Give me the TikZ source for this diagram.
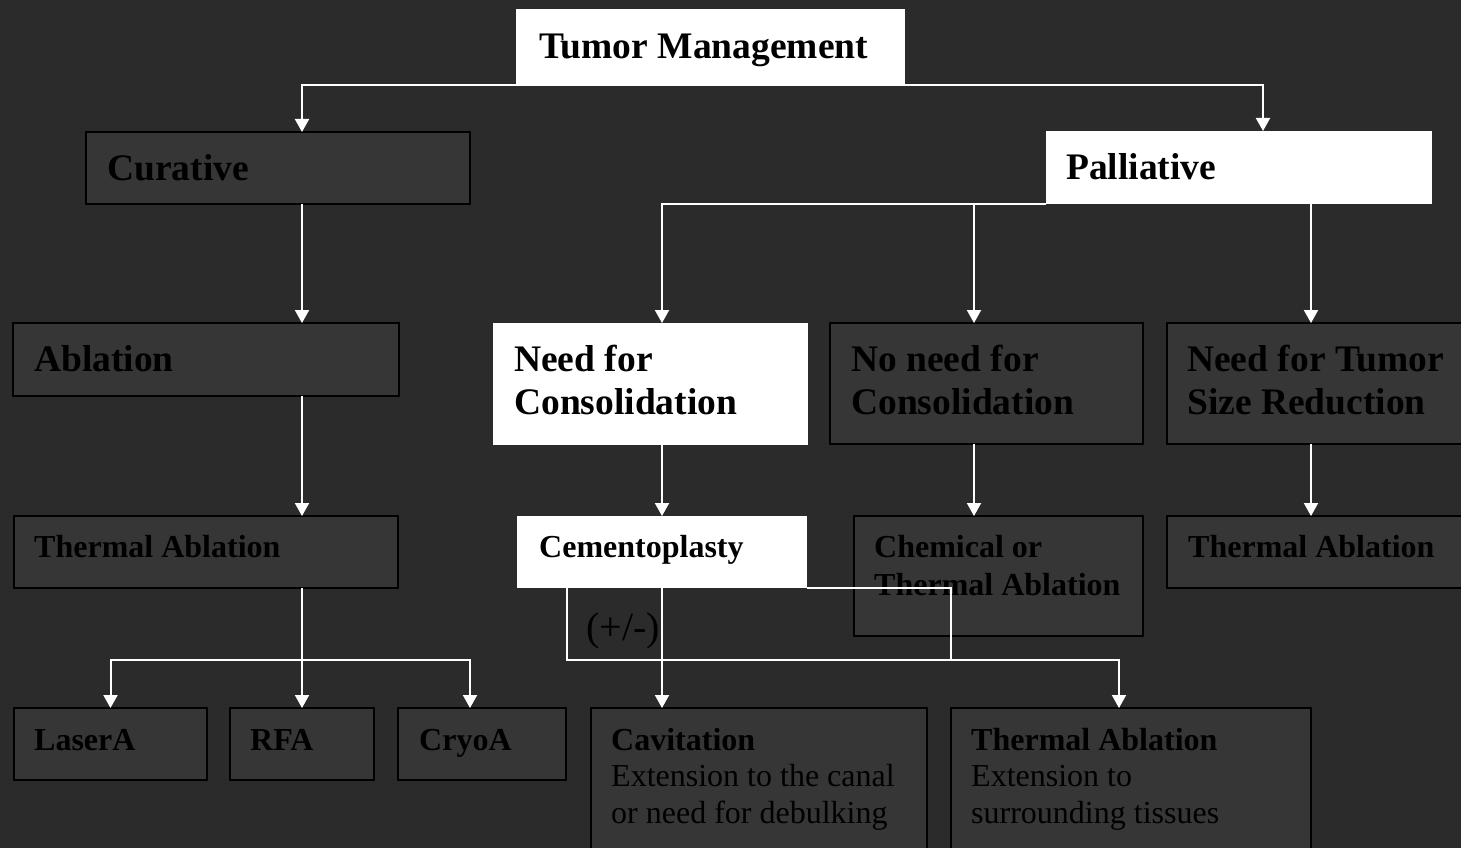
\documentclass[tikz,border=0pt]{standalone}
\usepackage{fontspec}
\setmainfont{Liberation Serif}
\usetikzlibrary{arrows.meta}
\definecolor{bgc}{HTML}{2B2B2B}
\definecolor{boxc}{HTML}{363636}
\tikzset{
  x=1pt, y=-1pt,
  boxbase/.style={rectangle, anchor=north west, inner sep=0pt, outer sep=0pt},
  dbox/.style={boxbase, fill=boxc, draw=black, line width=2pt},
  wbox/.style={boxbase, fill=white},
  big/.style={anchor=base west, inner sep=0pt, align=left, text=black,
    font=\fontsize{37.5}{43}\selectfont\bfseries},
  small/.style={anchor=base west, inner sep=0pt, align=left, text=black,
    font=\fontsize{32}{38}\selectfont\bfseries},
  plain/.style={anchor=base west, inner sep=0pt, align=left, text=black,
    font=\fontsize{32}{36.5}\selectfont},
  conn/.style={draw=white, line width=2pt},
  arr/.style={conn, -{Triangle[width=14pt,length=13pt]}}
}
\begin{document}
\begin{tikzpicture}
\fill[bgc] (0,0) rectangle (1461,848);
\useasboundingbox (0,0) rectangle (1461,848);
\begin{scope}
\clip (0,0) rectangle (1461,848);
% boxes
\node[wbox, minimum width=389, minimum height=76] (tm) at (516,9) {};
\node[dbox, minimum width=384, minimum height=72] (cur) at (86,132) {};
\node[wbox, minimum width=386, minimum height=73] (pal) at (1046,131) {};
\node[dbox, minimum width=386, minimum height=73] (abl) at (13,323) {};
\node[wbox, minimum width=315, minimum height=122] (ncons) at (493,323) {};
\node[dbox, minimum width=313, minimum height=121] (nonc) at (830,323) {};
\node[dbox, minimum width=313, minimum height=121] (ntum) at (1167,323) {};
\node[dbox, minimum width=384, minimum height=72] (tal) at (14,516) {};
\node[wbox, minimum width=290, minimum height=72] (cement) at (517,516) {};
\node[dbox, minimum width=289, minimum height=120] (chem) at (854,516) {};
\node[dbox, minimum width=313, minimum height=72] (tar) at (1167,516) {};
\node[dbox, minimum width=193, minimum height=72] (laser) at (14,708) {};
\node[dbox, minimum width=144, minimum height=72] (rfa) at (230,708) {};
\node[dbox, minimum width=168, minimum height=72] (cryo) at (398,708) {};
\node[dbox, minimum width=336, minimum height=170] (cav) at (591,708) {};
\node[dbox, minimum width=360, minimum height=170] (tab) at (951,708) {};
% texts (multi-line: anchor at baseline of last line)
\node[big] (tmt) at (539,59) {Tumor Management};
\node[big] (curt) at (107,180) {Curative};
\node[big] (palt) at (1066,179) {Palliative};
\node[big] (ablt) at (34,371) {Ablation};
\node[big] (nconst) at (514,414) {Need for\\Consolidation};
\node[big] (nonct) at (851,414) {No need for\\Consolidation};
\node[big] (ntumt) at (1187,414) {Need for Tumor\\Size Reduction};
\node[small] (talt) at (34,557) {Thermal Ablation};
\node[small] (cementt) at (539,557) {Cementoplasty};
\node[small] (chemt) at (874,595) {Chemical or\\Thermal Ablation};
\node[small] (tart) at (1188,557) {Thermal Ablation};
\node[small] (lasert) at (34,750) {LaserA};
\node[small] (rfat) at (250,750) {RFA};
\node[small] (cryot) at (419,750) {CryoA};
\node[plain] (cavt) at (611,823) {\textbf{Cavitation}\\Extension to the canal\\or need for debulking};
\node[plain] (tabt) at (971,823) {\textbf{Thermal Ablation}\\Extension to\\surrounding tissues};
\node[anchor=base west, inner sep=0pt, text=black, font=\fontsize{40}{46}\selectfont] (pm) at (586,640) {(+/-)};
% connectors
\draw[arr] (tm.south) -| ([xshift=24]cur.north);
\draw[arr] (tm.south) -| ([xshift=24]pal.north);
\draw[arr] ([xshift=24]cur.south) -- ([xshift=24]cur.south |- abl.north);
\draw[arr] ([xshift=96]abl.south) -- ([xshift=96]tal.north);
\draw[arr] ([xshift=96]tal.south) -- ++(0,72) -| (laser.north);
\draw[arr] ([xshift=96]tal.south) -- (rfa.north);
\draw[arr] ([xshift=96]tal.south) -- ++(0,72) -| ([xshift=-12]cryo.north);
\draw[arr] (pal.south west) -| ([xshift=11.5]ncons.north);
\draw[arr] (pal.south west) -| ([xshift=-12.5]nonc.north);
\draw[arr] ([xshift=72]pal.south) -- ([xshift=72]pal.south |- ntum.north);
\draw[arr] ([xshift=11.5]ncons.south) -- (cement.north);
\draw[arr] ([xshift=-12.5]nonc.south) -- ([xshift=-12.5]nonc.south |- chem.north);
\draw[arr] ([xshift=-12.5]ntum.south) -- ([xshift=-12.5]tar.north);
\draw[arr] (cement.south) -- (cement.south |- cav.north);
\draw[arr] ([xshift=-95]cement.south) -- ++(0,72) -| ([xshift=-12]tab.north);
\coordinate (j) at (950.5,660);
\draw[conn] (cement.south east) -| (j);
\end{scope}
\end{tikzpicture}
\end{document}
